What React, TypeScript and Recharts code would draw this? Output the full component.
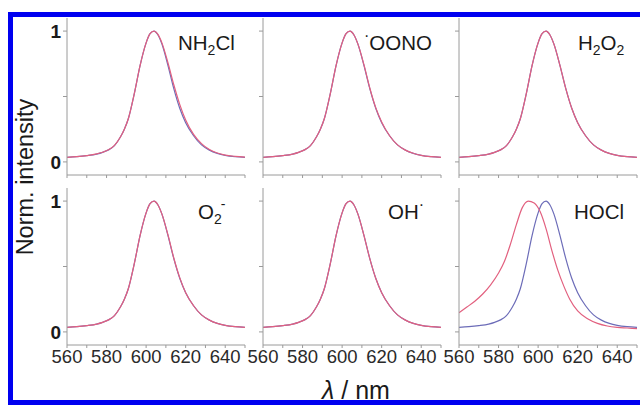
import { LineChart, Line, XAxis, YAxis } from 'recharts'

// probe alone (blue) - same grid for every panel
const wavelengths = [560, 565, 570, 575, 578, 581, 584, 587, 589, 591, 594, 597, 600, 602, 604, 606, 608, 611, 614, 617, 620, 624, 628, 632, 636, 640, 645, 650]
const probe = [0.035, 0.04, 0.048, 0.06, 0.073, 0.092, 0.125, 0.19, 0.25, 0.33, 0.52, 0.74, 0.91, 0.98, 1.0, 0.97, 0.9, 0.74, 0.56, 0.41, 0.3, 0.2, 0.13, 0.09, 0.065, 0.05, 0.04, 0.035]

// probe + analyte (pink)
const withNH2Cl = [0.035, 0.04, 0.048, 0.061, 0.074, 0.093, 0.126, 0.19, 0.25, 0.33, 0.52, 0.74, 0.91, 0.98, 1.0, 0.975, 0.91, 0.76, 0.59, 0.44, 0.32, 0.21, 0.14, 0.095, 0.068, 0.052, 0.042, 0.036]
const withOONO = [0.035, 0.04, 0.048, 0.06, 0.073, 0.092, 0.125, 0.19, 0.25, 0.33, 0.52, 0.74, 0.91, 0.98, 1.0, 0.97, 0.9, 0.745, 0.565, 0.415, 0.305, 0.2, 0.13, 0.09, 0.066, 0.05, 0.04, 0.035]
const withH2O2 = [0.035, 0.04, 0.048, 0.06, 0.073, 0.092, 0.125, 0.19, 0.25, 0.33, 0.52, 0.74, 0.91, 0.98, 1.0, 0.97, 0.9, 0.74, 0.56, 0.41, 0.3, 0.2, 0.13, 0.09, 0.065, 0.05, 0.04, 0.035]
const withO2 = [0.035, 0.04, 0.048, 0.06, 0.073, 0.092, 0.125, 0.19, 0.25, 0.33, 0.52, 0.74, 0.91, 0.98, 1.0, 0.97, 0.9, 0.745, 0.565, 0.415, 0.3, 0.2, 0.13, 0.09, 0.065, 0.05, 0.04, 0.035]
const withOH = [0.035, 0.04, 0.048, 0.06, 0.073, 0.092, 0.125, 0.19, 0.25, 0.33, 0.52, 0.74, 0.91, 0.98, 1.0, 0.97, 0.9, 0.74, 0.56, 0.41, 0.3, 0.2, 0.13, 0.09, 0.065, 0.05, 0.04, 0.035]

// HOCl shifts the emission to ~595 nm
const hoclWavelengths = [560, 564, 568, 572, 576, 580, 583, 586, 589, 592, 595, 598, 601, 604, 607, 610, 613, 616, 620, 625, 630, 635, 640, 645, 650]
const withHOCl = [0.146, 0.19, 0.235, 0.29, 0.36, 0.45, 0.54, 0.67, 0.82, 0.95, 1.0, 0.985, 0.92, 0.79, 0.62, 0.47, 0.35, 0.25, 0.16, 0.1, 0.065, 0.045, 0.035, 0.03, 0.025]

const xTicks = [560, 570, 580, 590, 600, 610, 620, 630, 640, 650]
const yTicks = [0, 0.5, 1]

const BLUE = '#6c6cb8'
const PINK = '#e2607f'
const AXIS = '#9a9a9a'
const FONT = '"Liberation Sans", Arial, sans-serif'

const colLeft = [66.7, 263.3, 459.3]
const rowTop = [18, 187.7]
const plotW = 178
const plotH = 157

const toPoints = (xs: number[], ys: number[]) => xs.map((x, i) => ({ x, y: ys[i] }))

interface IPanel {
  pink: number[]
  pinkX: number[]
  row: number
  col: number
}

const panels: IPanel[] = [
  { pink: withNH2Cl, pinkX: wavelengths, row: 0, col: 0 },
  { pink: withOONO, pinkX: wavelengths, row: 0, col: 1 },
  { pink: withH2O2, pinkX: wavelengths, row: 0, col: 2 },
  { pink: withO2, pinkX: wavelengths, row: 1, col: 0 },
  { pink: withOH, pinkX: wavelengths, row: 1, col: 1 },
  { pink: withHOCl, pinkX: hoclWavelengths, row: 1, col: 2 },
]

const Panel = ({ pink, pinkX, row, col }: IPanel) => {
  const showX = row === 1
  const showY = col === 0
  return (
    <div style={{ position: 'absolute', left: colLeft[col] - 22, top: rowTop[row] - 5 }}>
      <LineChart width={22 + plotW + 5} height={5 + plotH + 30} margin={{ top: 5, right: 5, left: 0, bottom: 0 }}>
        <XAxis
          dataKey="x"
          type="number"
          domain={[560, 650]}
          ticks={xTicks}
          allowDataOverflow
          height={30}
          tickSize={3}
          tickMargin={2}
          stroke={AXIS}
          tick={{ fill: '#2a2a2a', fontSize: 18.5, fontFamily: FONT }}
          tickFormatter={(v: number) => (showX && v % 20 === 0 && v <= 640 ? String(v) : '')}
          interval={0}
        />
        <YAxis
          type="number"
          domain={[-0.1, 1.1]}
          ticks={yTicks}
          allowDataOverflow
          width={22}
          tickSize={4}
          tickMargin={2}
          stroke={AXIS}
          tick={{ fill: '#1a1a1a', fontSize: 19, fontFamily: FONT, fontWeight: 'bold' }}
          tickFormatter={(v: number) => (showY && v !== 0.5 ? String(v) : '')}
          interval={0}
        />
        <Line data={toPoints(wavelengths, probe)} dataKey="y" type="monotone" stroke={BLUE} strokeWidth={1.2} dot={false} isAnimationActive={false} />
        <Line data={toPoints(pinkX, pink)} dataKey="y" type="monotone" stroke={PINK} strokeWidth={1.2} dot={false} isAnimationActive={false} />
      </LineChart>
    </div>
  )
}

const Labels = () => (
  <svg width={640} height={405} style={{ position: 'absolute', left: 0, top: 0, pointerEvents: 'none' }} fontFamily={FONT} fill="#1a1a1a">
    <text x={178} y={50} fontSize={20.5}>
      NH<tspan fontSize={14} dy={5}>2</tspan>
      <tspan dy={-5}>Cl</tspan>
    </text>
    <text x={364} y={50} fontSize={20.5}>
      <tspan fontSize={16} dy={-9}>·</tspan>
      <tspan dy={9}>OONO</tspan>
    </text>
    <text x={578} y={50} fontSize={20.5}>
      H<tspan fontSize={14} dy={5}>2</tspan>
      <tspan dy={-5}>O</tspan>
      <tspan fontSize={14} dy={5}>2</tspan>
    </text>
    <text x={198} y={219} fontSize={20.5}>
      O<tspan fontSize={14} dy={5}>2</tspan>
      <tspan fontSize={14} dx={-1} dy={-15}>-</tspan>
    </text>
    <text x={388} y={219} fontSize={20.5}>
      OH<tspan fontSize={16} dy={-9}>·</tspan>
    </text>
    <text x={574} y={219} fontSize={20.5}>HOCl</text>
    <text x={33} y={177} fontSize={23.5} textAnchor="middle" transform="rotate(-90 33 177)">
      Norm. intensity
    </text>
    <text x={356} y={399} fontSize={25} textAnchor="middle">
      <tspan fontStyle="italic">λ</tspan> / nm
    </text>
  </svg>
)

const App = () => {
  return (
    <div style={{ position: 'absolute', left: 0, top: 0, width: 640, height: 405, overflow: 'hidden', background: '#fff' }}>
      <div
        style={{
          position: 'absolute',
          left: 8,
          top: 12,
          width: 660,
          height: 393,
          boxSizing: 'border-box',
          border: '5px solid #0000f0',
        }}
      />
      {panels.map((p, i) => (
        <Panel key={i} {...p} />
      ))}
      <Labels />
    </div>
  )
}

export default App
